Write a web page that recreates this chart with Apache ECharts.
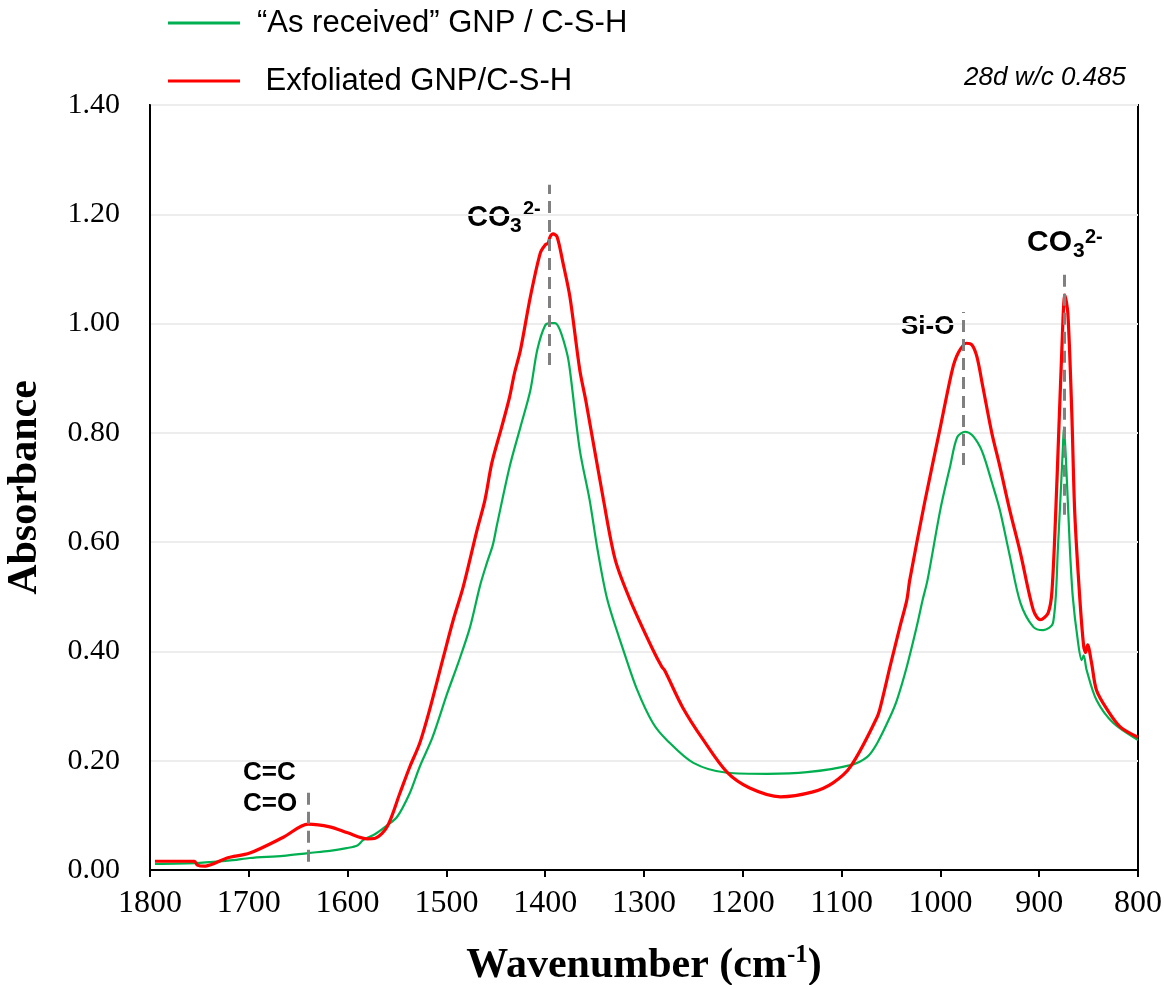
<!DOCTYPE html>
<html><head><meta charset="utf-8">
<script src="https://cdn.jsdelivr.net/npm/echarts@6/dist/echarts.min.js"></script>
<style>html,body{margin:0;padding:0;background:#fff}#c{width:1164px;height:985px}</style>
</head><body><div id="c"></div>
<script>
// ---- data (wavenumber in cm-1, absorbance) ----
const greenName = '\u201CAs received\u201D GNP / C-S-H';
const redName = ' Exfoliated GNP/C-S-H';
const greenWn = [1795,1750,1716,1699,1665,1640,1618,1601,1590,1584,1572,1562,1550,1537,1527,1514,1499,1488,1476,1466,1459,1453,1449,1436,1425,1415,1408,1400,1395,1390,1385,1378,1375,1365,1355,1347,1337,1321,1307,1291,1277,1250,1216,1175,1135,1091,1074,1064,1051,1044,1034,1024,1018,1013,1000,990,983,975,968,960,955,948,940,930,919,906,896,886,881,876,875,872,869,866,861,857,855,852,842,825,800];
const greenAbs = [0.011,0.013,0.018,0.022,0.026,0.031,0.035,0.040,0.045,0.055,0.066,0.079,0.097,0.141,0.189,0.243,0.324,0.379,0.445,0.520,0.562,0.595,0.630,0.738,0.811,0.878,0.952,0.997,1.001,1.001,0.988,0.946,0.915,0.769,0.677,0.586,0.494,0.403,0.330,0.269,0.238,0.196,0.178,0.176,0.179,0.192,0.207,0.232,0.280,0.311,0.372,0.445,0.494,0.531,0.660,0.740,0.792,0.802,0.796,0.775,0.752,0.710,0.660,0.577,0.489,0.445,0.439,0.452,0.591,0.774,0.810,0.714,0.591,0.500,0.421,0.384,0.393,0.366,0.311,0.269,0.238];
const redWn = [1795,1755,1752,1745,1735,1722,1699,1665,1640,1618,1600,1580,1572,1560,1547,1537,1527,1517,1503,1493,1483,1469,1461,1454,1444,1436,1431,1425,1415,1405,1400,1397,1395,1392,1388,1382,1375,1365,1359,1341,1329,1314,1291,1282,1279,1261,1240,1216,1193,1162,1129,1109,1091,1064,1059,1051,1041,1034,1031,1016,1000,988,982,974,968,963,957,948,940,930,919,906,899,891,887,882,877,874,871,867,864,859,855,853,851,847,842,831,818,800];
const redAbs = [0.016,0.016,0.009,0.007,0.012,0.022,0.031,0.060,0.084,0.079,0.068,0.057,0.058,0.079,0.141,0.189,0.232,0.293,0.390,0.458,0.518,0.622,0.677,0.745,0.811,0.866,0.910,0.952,1.049,1.129,1.144,1.147,1.159,1.164,1.159,1.111,1.049,0.915,0.860,0.677,0.567,0.494,0.403,0.372,0.365,0.298,0.238,0.179,0.150,0.134,0.143,0.159,0.189,0.280,0.311,0.372,0.445,0.494,0.531,0.672,0.811,0.915,0.946,0.964,0.961,0.939,0.884,0.800,0.740,0.660,0.580,0.476,0.458,0.470,0.512,0.714,0.957,1.052,1.019,0.836,0.653,0.500,0.410,0.398,0.412,0.379,0.329,0.293,0.262,0.243];
// peak marker positions: [wavenumber, from absorbance, to absorbance]
const peakMarks = [[1640,0.015,0.146],[1396,0.924,1.254],[977,0.741,1.021],[875,0.650,1.102]];

const zip = (a, b) => a.map((v, i) => [v, b[i]]);
const chart = echarts.init(document.getElementById('c'));
const SERIF = '"Liberation Serif","Times New Roman",serif';
const SANS = '"Liberation Sans",Arial,sans-serif';

chart.setOption({
  animation: false,
  backgroundColor: '#fff',
  grid: {left: 150, right: 26, top: 105, bottom: 115, show: true, borderColor: '#000', borderWidth: 2,
         backgroundColor: 'transparent', containLabel: false, outerBoundsMode: 'none'},
  legend: {
    orient: 'vertical', left: 163, top: 2, icon: 'rect', itemWidth: 72, itemHeight: 3, itemGap: 26,
    data: [greenName, redName],
    textStyle: {fontFamily: SANS, fontSize: 31, color: '#000', lineHeight: 32, padding: [0, 0, 0, 12]}
  },
  xAxis: {
    type: 'value', inverse: true, min: 800, max: 1800, interval: 100,
    axisLine: {show: true, lineStyle: {color: '#000', width: 2}},
    axisTick: {show: true, length: 7, lineStyle: {color: '#000', width: 2}},
    axisLabel: {fontFamily: SERIF, fontSize: 32, color: '#000', margin: 18, formatter: v => String(v)},
    splitLine: {show: false},
    name: '{a|Wavenumber (cm}{b|-1}{a|)}', nameLocation: 'middle', nameGap: 71,
    nameTextStyle: {rich: {
      a: {fontFamily: SERIF, fontSize: 42, fontWeight: 'bold', color: '#000', lineHeight: 46, verticalAlign: 'bottom'},
      b: {fontFamily: SERIF, fontSize: 25, fontWeight: 'bold', color: '#000', lineHeight: 46, verticalAlign: 'top', padding: [2,0,0,0]}
    }}
  },
  yAxis: {
    type: 'value', min: 0, max: 1.4, interval: 0.2,
    axisLine: {show: true, lineStyle: {color: '#000', width: 2}},
    axisTick: {show: false},
    axisLabel: {fontFamily: SERIF, fontSize: 30, color: '#000', margin: 30, formatter: v => v.toFixed(2)},
    splitLine: {show: true, lineStyle: {color: '#ededed', width: 2}},
    name: 'Absorbance', nameLocation: 'middle', nameGap: 104, nameRotate: 90,
    nameTextStyle: {fontFamily: SERIF, fontSize: 42, fontWeight: 'bold', color: '#000'}
  },
  series: [
    {name: greenName, type: 'line', data: zip(greenWn, greenAbs), showSymbol: false, smooth: 0.3,
     lineStyle: {color: '#00B050', width: 2.2}, itemStyle: {color: '#00B050'}},
    {name: redName, type: 'line', data: zip(redWn, redAbs), showSymbol: false, smooth: 0.3,
     lineStyle: {color: '#FF0000', width: 3.2}, itemStyle: {color: '#FF0000'},
     markLine: {silent: true, symbol: ['none', 'none'], label: {show: false},
       lineStyle: {color: '#808080', width: 3, type: [12, 7]},
       data: peakMarks.map(p => [{coord: [p[0], p[1]]}, {coord: [p[0], p[2]]}])}}
  ],
  graphic: [
    {type: 'rect', shape: {x: 151, y: 212, width: 92, height: 6}, style: {fill: '#fff'}, silent: true},
    {type: 'text', x: 1126, y: 78, style: {text: '28d w/c 0.485', font: 'italic 26px ' + SANS, fill: '#000', align: 'right', verticalAlign: 'middle'}},
    {type: 'text', x: 467, y: 218, style: {text: 'CO', font: 'bold 29px ' + SANS, fill: '#000', align: 'left', verticalAlign: 'middle'}},
    {type: 'text', x: 510, y: 226, style: {text: '3', font: 'bold 21px ' + SANS, fill: '#000', align: 'left', verticalAlign: 'middle'}},
    {type: 'text', x: 523, y: 209, style: {text: '2-', font: 'bold 20px ' + SANS, fill: '#000', align: 'left', verticalAlign: 'middle'}},
    {type: 'text', x: 1027, y: 243, style: {text: 'CO', font: 'bold 30px ' + SANS, fill: '#000', align: 'left', verticalAlign: 'middle'}},
    {type: 'text', x: 1073, y: 251, style: {text: '3', font: 'bold 21px ' + SANS, fill: '#000', align: 'left', verticalAlign: 'middle'}},
    {type: 'text', x: 1085, y: 237, style: {text: '2-', font: 'bold 20px ' + SANS, fill: '#000', align: 'left', verticalAlign: 'middle'}},
    {type: 'text', x: 901, y: 327, style: {text: 'Si-O', font: 'bold 26px ' + SANS, fill: '#000', align: 'left', verticalAlign: 'middle'}},
    {type: 'text', x: 243, y: 773, style: {text: 'C=C', font: 'bold 26px ' + SANS, fill: '#000', align: 'left', verticalAlign: 'middle'}},
    {type: 'text', x: 243, y: 804, style: {text: 'C=O', font: 'bold 26px ' + SANS, fill: '#000', align: 'left', verticalAlign: 'middle'}}
  ]
});
</script>
</body></html>
